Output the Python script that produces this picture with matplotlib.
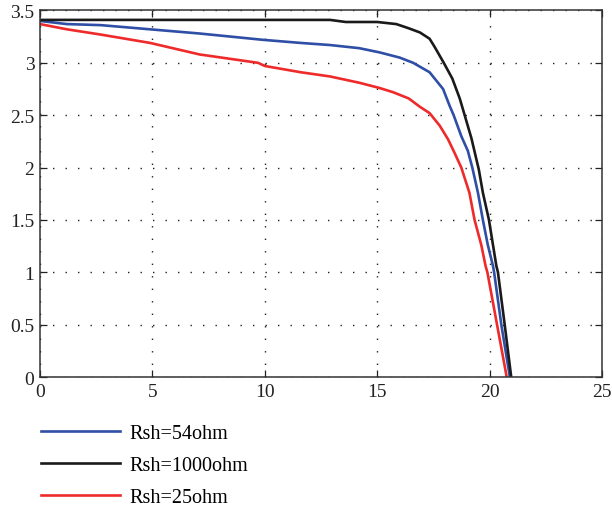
import matplotlib.pyplot as plt

plt.rcParams['font.family'] = ['Liberation Serif', 'DejaVu Serif']

# I-V curves for three shunt resistances (voltage in V, current in A)
v_54 = [0, 1.2, 2.7, 4.9, 7.1, 9.9, 11.6, 12.9, 14.2, 15.1, 16.0, 16.6, 17.33,
        17.93, 18.22, 18.4, 18.74, 19.03, 19.23, 19.48, 19.7, 19.92, 20.15, 20.2,
        20.52, 20.9]
i_54 = [3.40, 3.37, 3.36, 3.32, 3.28, 3.22, 3.19, 3.17, 3.14, 3.10, 3.05, 3.00, 2.91,
        2.75, 2.59, 2.50, 2.30, 2.16, 2.00, 1.76, 1.50, 1.26, 1.06, 1.00,
        0.50, 0.0]

v_1000 = [0, 12.9, 13.6, 15.0, 15.85, 16.4, 16.9, 17.33, 17.56, 17.96, 18.34, 18.67,
          18.89, 19.19, 19.41, 19.52, 19.7, 19.97, 20.15, 20.3, 20.37, 20.67, 20.96]
i_1000 = [3.41, 3.41, 3.39, 3.39, 3.37, 3.33, 3.29, 3.23, 3.15, 3.00, 2.85, 2.66,
          2.50, 2.28, 2.08, 1.98, 1.76, 1.50, 1.26, 1.06, 1.00, 0.50, 0.0]

v_25 = [0, 1.2, 2.7, 4.9, 7.1, 9.7, 10.0, 11.6, 12.9, 14.2, 15.1, 15.7, 16.4, 16.9,
        17.33, 17.78, 18.15, 18.44, 18.74, 19.1, 19.33, 19.63, 19.82, 19.9, 20.33, 20.76]
i_25 = [3.37, 3.32, 3.27, 3.19, 3.08, 3.00, 2.97, 2.91, 2.87, 2.81, 2.76, 2.72, 2.66, 2.58,
        2.52, 2.40, 2.27, 2.14, 2.00, 1.76, 1.50, 1.26, 1.06, 1.00, 0.50, 0.0]

labels = ['Rsh=54ohm', 'Rsh=1000ohm', 'Rsh=25ohm']
colors = ['#2f4fa6', '#1a1a1a', '#ee2a2a']

fig = plt.figure(figsize=(6.12, 5.1), dpi=100)
ax = fig.add_axes([0.0654, 0.2588, 0.9183, 0.7187])

lines = []
for v, i, c, lab in zip([v_54, v_1000, v_25], [i_54, i_1000, i_25], colors, labels):
    ln, = ax.plot(v, i, color=c, lw=1.9, label=lab)
    lines.append(ln)

ax.set_xlim(0, 25)
ax.set_ylim(0, 3.5)
ax.set_xticks([0, 5, 10, 15, 20, 25])
ax.set_yticks([0, 0.5, 1, 1.5, 2, 2.5, 3, 3.5])
ax.set_yticklabels(['0', '0.5', '1', '1.5', '2', '2.5', '3', '3.5'])
ax.tick_params(direction='in', top=True, right=True, length=5, width=0.9,
               labelsize=14, colors='#222222', pad=4)
ax.grid(True, color='#222222', linestyle=(0, (1, 8)), linewidth=1.0)
for s in ax.spines.values():
    s.set_linewidth(1.1)
    s.set_color('#333333')

fig.legend(handles=lines, loc='upper left', bbox_to_anchor=(0.054, 0.182),
           frameon=False, fontsize=14.5, handlelength=3.9, handletextpad=0.5,
           labelspacing=0.64, borderaxespad=0)

fig.savefig('out.png', dpi=100)
